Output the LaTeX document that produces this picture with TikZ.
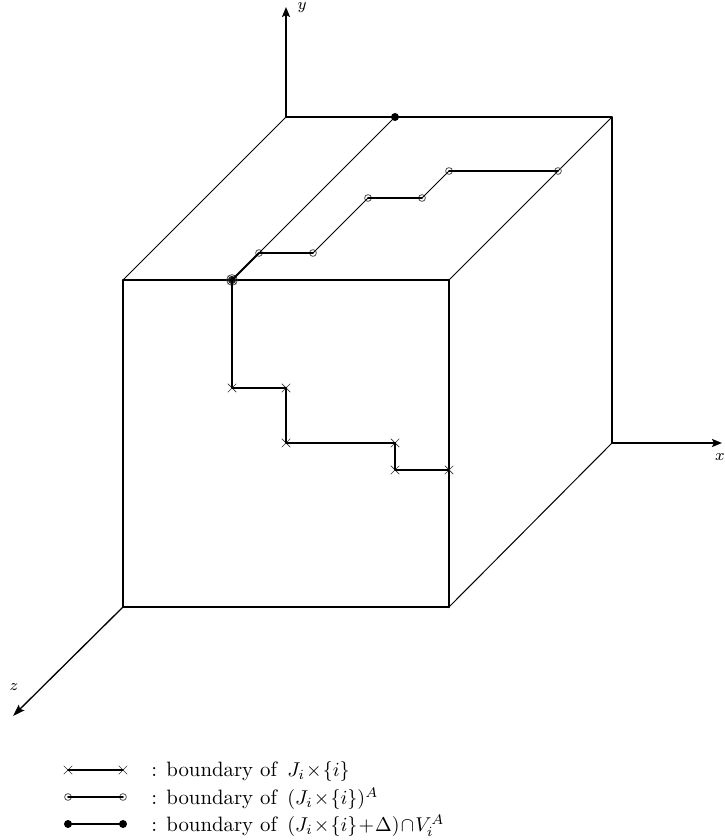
\documentclass[tikz,border=0pt]{standalone}
\usepackage{amsmath}
\usepackage{tikz}
\usetikzlibrary{positioning,calc,arrows.meta,shapes.misc}

\newcommand{\tms}{\mskip1mu{\times}\mskip1mu}

\tikzset{
	crossmark/.style={cross out,draw,gray!40!black,line width=0.35pt,minimum size=4.2pt,inner sep=0pt,outer sep=0pt},
	circmark/.style={circle,draw,gray!40!black,line width=0.35pt,minimum size=3.4pt,inner sep=0pt,outer sep=0pt},
	dotmark/.style={circle,fill=black,minimum size=4pt,inner sep=0pt,outer sep=0pt},
	edgeline/.style={line width=0.95pt},
	heavyline/.style={line width=1.3pt},
	thinline/.style={line width=0.5pt},
	axisline/.style={line width=1.15pt,-{Stealth[length=5pt,width=4pt,inset=1pt]}},
	axislabel/.style={font=\footnotesize,inner sep=0pt},
	legendtext/.style={anchor=west,inner sep=0pt,font=\fontsize{10.4}{12}\selectfont}
}

\begin{document}
\begin{tikzpicture}[x=0.5pt,y=0.5pt,line cap=round,line join=round]
	\useasboundingbox (0,0) rectangle (724,840);
	
	% box corners
	\coordinate (Fll) at (123,233);
	\coordinate (Flr) at (449,233);
	\coordinate (Fur) at (449,560);
	\coordinate (Ful) at (123,560);
	\coordinate (Blr) at (612,397);
	\coordinate (Bur) at (612,723);
	\coordinate (Bul) at (286,723);
	
	% axis ends
	\coordinate (Xend) at (722,397);
	\coordinate (Yend) at (286,833);
	\coordinate (Zend) at (13,124);
	
	% labels
	\node[axislabel] (xlab) at (720,383) {$x$};
	\node[axislabel] (ylab) at (302,832) {$y$};
	\node[axislabel] (zlab) at (14,153) {$z$};
	
	% axes
	\draw[axisline] (Blr) -- (Xend);
	\draw[axisline] (Bul) -- (Yend);
	\draw[line width=0.65pt,-{Stealth[length=6pt,width=4pt,inset=1pt]}] (Fll) -- (Zend);
	
	% box
	\draw[edgeline] (Fll) rectangle (Fur);
	\draw[heavyline] (Flr) -- (Fur);
	\draw[edgeline] (Bul) -- (Bur) -- (Blr);
	\draw[thinline] (Ful) -- (Bul);
	\draw[thinline] (Fur) -- (Bur);
	\draw[thinline] (Flr) -- (Blr);
	
	% crossing points on the front face
	\foreach \nm/\xx/\yy in {a/232/452, b/286/452, c/286/397, d/395/397, e/395/370, f/449/370}{
		\node[crossmark] (c\nm) at (\xx,\yy) {};
	}
	
	% circled points on the top face
	\foreach \nm/\xx/\yy in {a/259/587, b/313/587, c/368/642, d/422/642, e/449/669, f/558/669}{
		\node[circmark] (o\nm) at (\xx,\yy) {};
	}
	
	% common corner and top dot
	\node[dotmark] (start) at (232,560) {};
	\node[circmark,minimum size=5.4pt] (startring) at (232,560) {};
	\node[circmark] (startinner) at (232,560) {};
	\node[crossmark] (startcross) at (232,560) {};
	\node[dotmark] (topdot) at (395,723) {};
	
	% staircase paths
	\draw[edgeline] (start.center) -- (ca.center) -- (cb.center);
	\draw[heavyline] (cb.center) -- (cc.center) -- (cd.center);
	\draw[edgeline] (cd.center) -- (ce.center) -- (cf.center);
	\draw[thinline] (start.center) -- (topdot.center);
	\draw[edgeline] (start.center) -- (oa.center);
	\draw[edgeline] (oa.center) -- (ob.center);
	\draw[thinline] (ob.center) -- (oc.center);
	\draw[edgeline] (oc.center) -- (od.center);
	\draw[thinline] (od.center) -- (oe.center);
	\draw[edgeline] (oe.center) -- (of.center);
	
	% legend
	\node[crossmark] (leg1a) at (68,70) {};
	\node[crossmark] (leg1b) at (123,70) {};
	\node[circmark] (leg2a) at (68,43) {};
	\node[circmark] (leg2b) at (123,43) {};
	\node[dotmark] (leg3a) at (68,16) {};
	\node[dotmark] (leg3b) at (123,16) {};
	\draw[edgeline] (leg1a.center) -- (leg1b.center);
	\draw[edgeline] (leg2a.center) -- (leg2b.center);
	\draw[edgeline] (leg3a.center) -- (leg3b.center);
	\node[legendtext] (leg1t) at (151,68.5) {: boundary of\, $J_i\tms\{i\}$};
	\node[legendtext] (leg2t) at (151,41.5) {: boundary of\, $(J_i\tms\{i\})^A$};
	\node[legendtext] (leg3t) at (151,14.5) {: boundary of\, $(J_i\tms\{i\}\mskip1mu{+}\mskip1mu\Delta)\mskip1mu{\cap}\mskip1mu V_i^A$};
\end{tikzpicture}
\end{document}
